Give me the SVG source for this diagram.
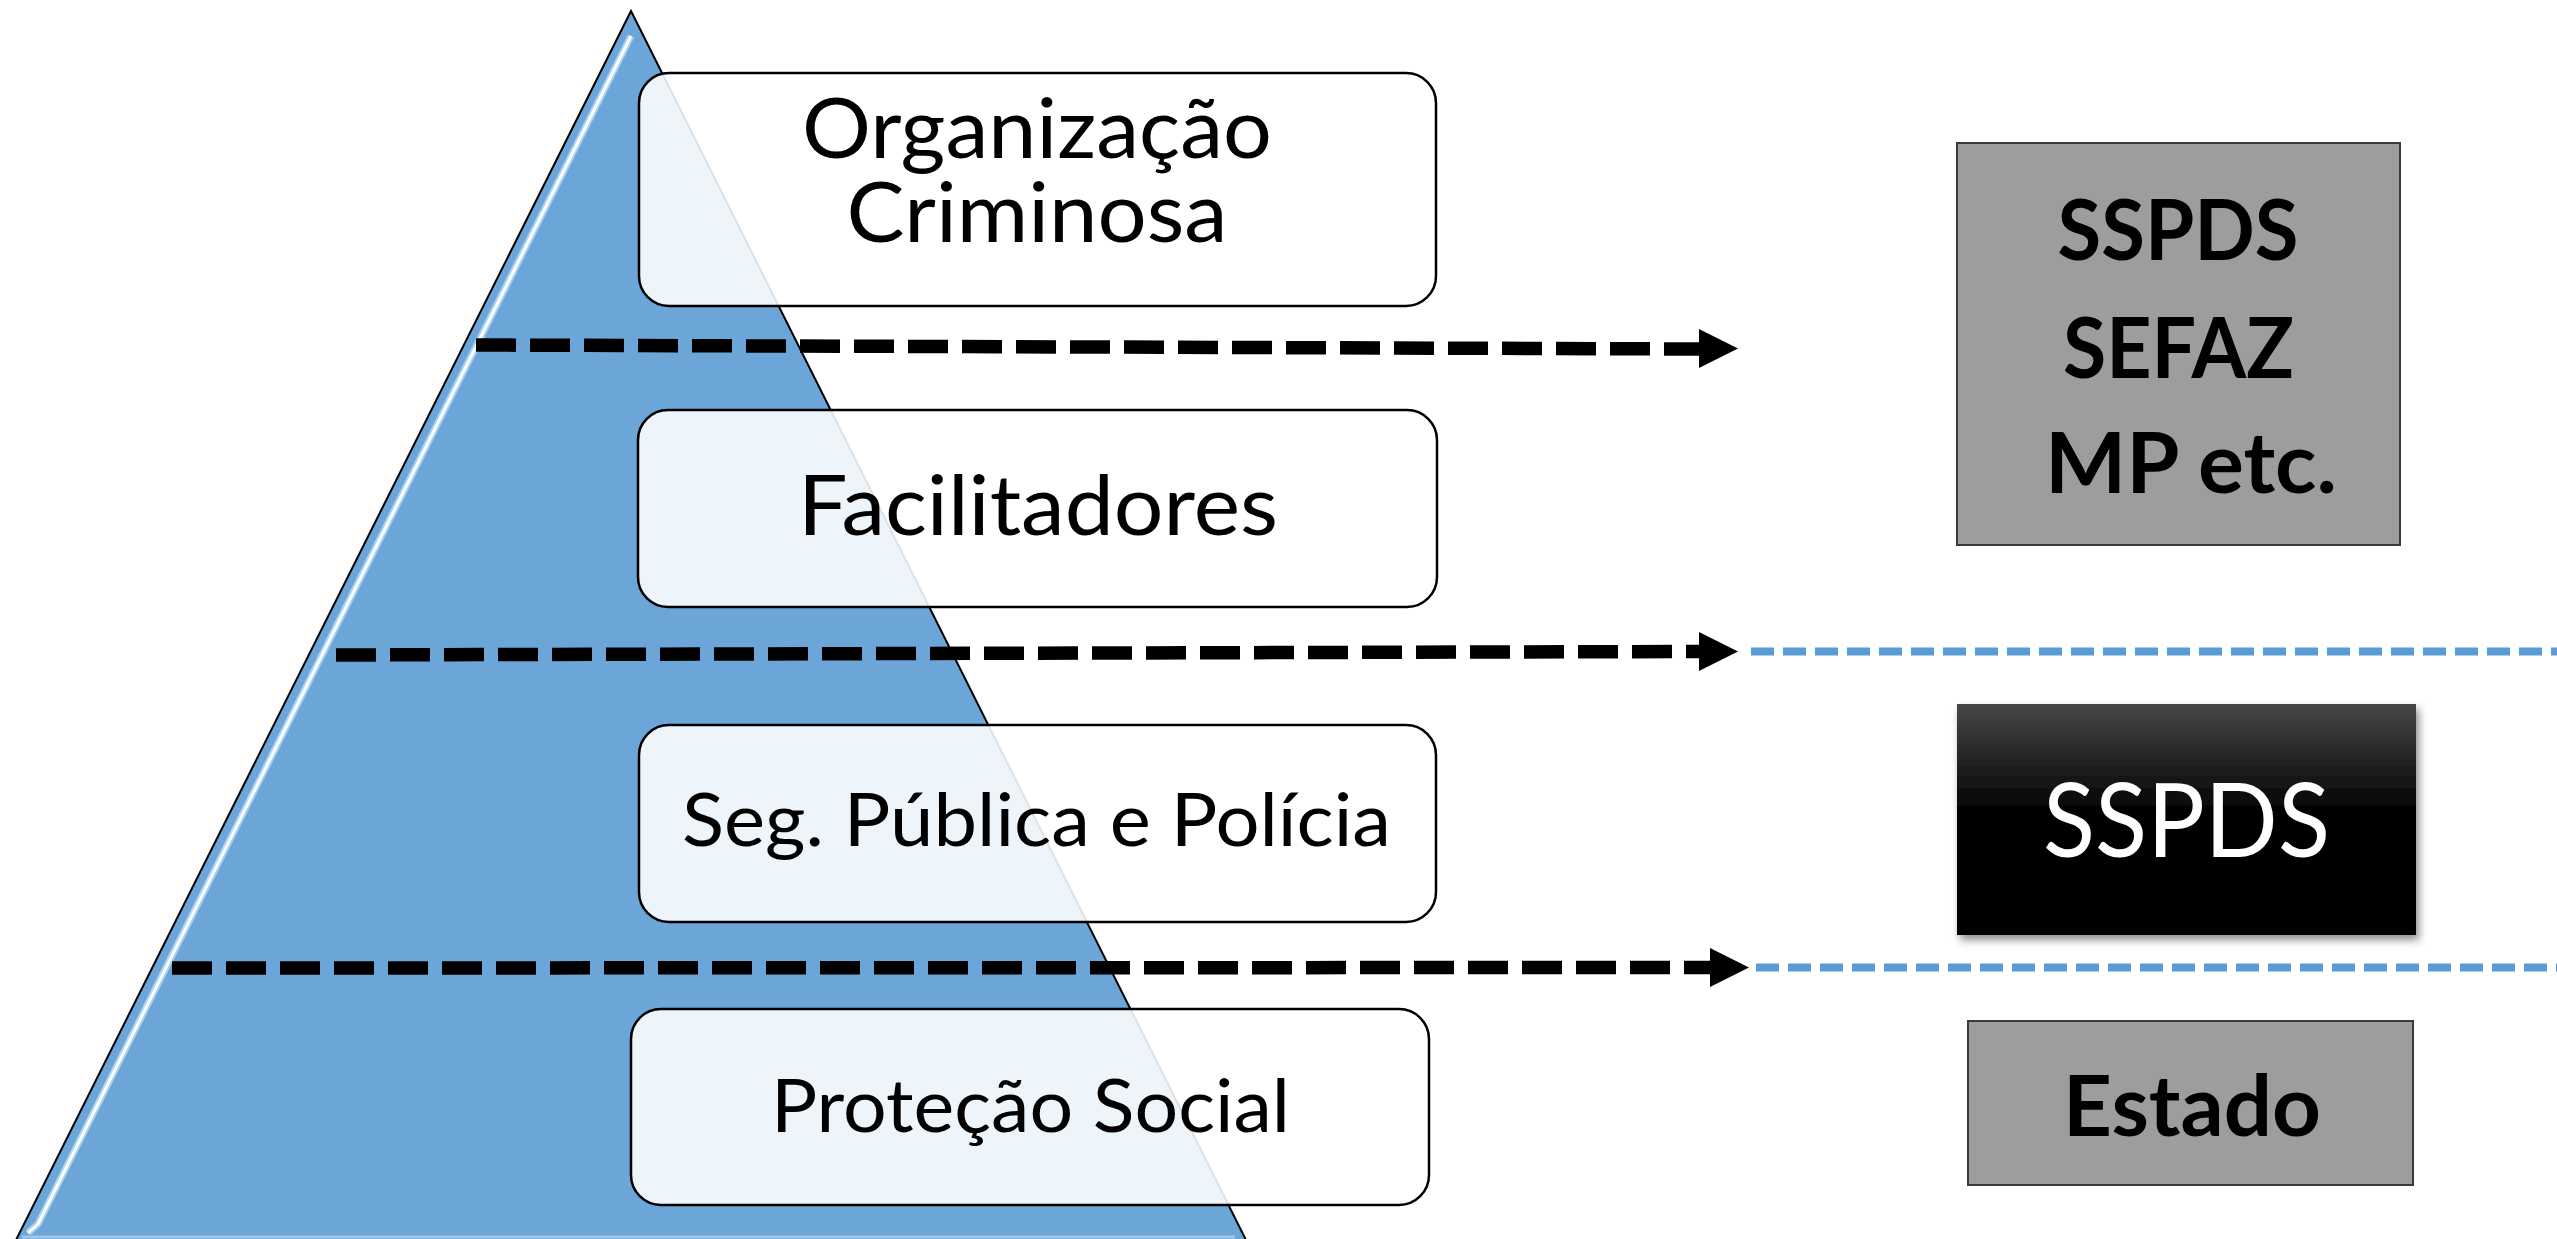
<svg xmlns="http://www.w3.org/2000/svg" width="2557" height="1239" viewBox="0 0 2557 1239">
  <defs>
    <style>
      .box{fill:#ffffff;fill-opacity:0.88;stroke:#000;stroke-width:2.5}
      .gbox{fill:#9d9d9d;stroke:#3a3a3a;stroke-width:2}
      .t{font-family:Lato,"Open Sans","Liberation Sans",sans-serif;text-anchor:middle;fill:#000}
      .b{font-weight:bold}
      .dash{fill:none;stroke:#000;stroke-width:13.5;stroke-dasharray:40 14;stroke-linecap:butt}
      .blue{fill:none;stroke:#5b9bd5;stroke-width:8;stroke-dasharray:23 9}
      .head{fill:#000}
    </style>
    <linearGradient id="blk" x1="0" y1="0" x2="0" y2="1">
      <stop offset="0" stop-color="#474747"/>
      <stop offset="0.45" stop-color="#050505"/>
      <stop offset="1" stop-color="#000"/>
    </linearGradient>
    <filter id="sh" x="-10%" y="-10%" width="125%" height="130%">
      <feDropShadow dx="3" dy="5" stdDeviation="4" flood-color="#000" flood-opacity="0.45"/>
    </filter>
  </defs>

  <g id="pyramid">
    <polygon points="631,11 13,1246 1249,1246" fill="#6ca5d7" stroke="#000" stroke-width="2"/>
    <line x1="1235" y1="1237" x2="22" y2="1237" stroke="#9cc6ea" stroke-width="3"/>
    <polyline points="631,36 38,1224 28,1233" fill="none" stroke="#a9d2f2" stroke-width="7" stroke-linejoin="round"/>
    <polyline points="631,36 38,1224 28,1233" fill="none" stroke="#ffffff" stroke-width="3" stroke-linejoin="round"/>
  </g>

  <g id="connectors">
    <path class="dash" d="M476,345 L1699,349"/>
    <polygon class="head" points="1699,329 1738,348.5 1699,368"/>
    <path class="dash" d="M336,655 L1699,651.5"/>
    <polygon class="head" points="1699,632 1738,651.5 1699,671"/>
    <path class="blue" d="M1751,651.5 L2557,651.5"/>
    <path class="dash" d="M172,968 L1710,967.5"/>
    <polygon class="head" points="1710,948 1749,967.5 1710,987"/>
    <path class="blue" d="M1756,967.5 L2557,967.5"/>
  </g>

  <g id="node-organizacao">
    <rect class="box" x="639" y="73" width="797" height="233" rx="30" ry="30"/>
    <text class="t" font-size="84"><tspan x="1037" y="158" textLength="470" lengthAdjust="spacingAndGlyphs">Organização</tspan><tspan x="1037" y="242" textLength="381" lengthAdjust="spacingAndGlyphs">Criminosa</tspan></text>
  </g>

  <g id="node-facilitadores">
    <rect class="box" x="638" y="410" width="799" height="197" rx="30" ry="30"/>
    <text class="t" x="1038" y="535" font-size="83" textLength="480" lengthAdjust="spacingAndGlyphs">Facilitadores</text>
  </g>

  <g id="node-seguranca">
    <rect class="box" x="639" y="725" width="797" height="197" rx="30" ry="30"/>
    <text class="t" x="1036.5" y="846" font-size="73" textLength="709" lengthAdjust="spacingAndGlyphs">Seg. Pública e Polícia</text>
  </g>

  <g id="node-protecao">
    <rect class="box" x="631" y="1009" width="798" height="196" rx="30" ry="30"/>
    <text class="t" x="1030.5" y="1132" font-size="74" textLength="519" lengthAdjust="spacingAndGlyphs">Proteção Social</text>
  </g>

  <g id="node-orgaos">
    <rect class="gbox" x="1957" y="143" width="443" height="402"/>
    <text class="t b" x="2178" y="260" font-size="84" textLength="241" lengthAdjust="spacingAndGlyphs">SSPDS</text>
    <text class="t b" x="2178.5" y="378" font-size="84" textLength="231" lengthAdjust="spacingAndGlyphs">SEFAZ</text>
    <text class="t b" x="2191" y="493" font-size="84" textLength="292" lengthAdjust="spacingAndGlyphs">MP etc.</text>
  </g>

  <g id="node-sspds">
    <rect x="1957" y="704" width="459" height="231" fill="url(#blk)" filter="url(#sh)"/>
    <text class="t" x="2186.5" y="857" font-size="102" style="fill:#fff" textLength="287" lengthAdjust="spacingAndGlyphs">SSPDS</text>
  </g>

  <g id="node-estado">
    <rect class="gbox" x="1968" y="1021" width="445" height="164"/>
    <text class="t b" x="2192" y="1136" font-size="85" textLength="258" lengthAdjust="spacingAndGlyphs">Estado</text>
  </g>
</svg>
